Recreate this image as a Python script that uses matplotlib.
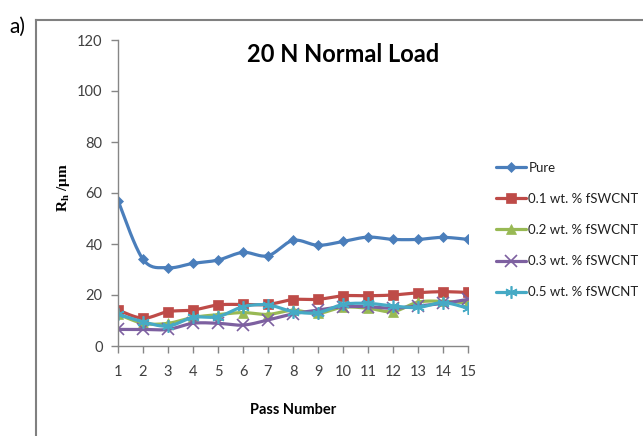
import numpy as np
import matplotlib
matplotlib.use("Agg")
import matplotlib.pyplot as plt
from matplotlib.lines import Line2D

# data
passes = list(range(1, 16))
pure = [57.0, 34.0, 30.7, 32.4, 33.7, 36.7, 35.4, 41.4, 39.5, 41.0, 42.7, 41.8, 41.8, 42.6, 41.8]
wt01 = [14.1, 10.9, 13.5, 14.1, 16.1, 16.3, 16.3, 18.2, 18.3, 19.7, 19.7, 20.0, 20.9, 21.3, 21.0]
wt02 = [12.5, 8.9, 8.9, 11.2, 12.3, 13.1, 12.4, 14.0, 12.8, 15.2, 14.8, 13.5, 17.2, 17.5, 16.9]
wt03 = [6.5, 6.5, 6.5, 8.9, 8.9, 8.2, 10.2, 12.6, 14.1, 15.4, 15.4, 14.8, 15.7, 16.7, 18.3]
wt05 = [12.5, 9.5, 7.8, 11.2, 11.5, 15.4, 16.1, 13.5, 13.1, 16.3, 16.7, 15.7, 15.1, 17.0, 14.8]

labels = ["Pure", "0.1 wt. % fSWCNT", "0.2 wt. % fSWCNT", "0.3 wt. % fSWCNT", "0.5 wt. % fSWCNT"]
colors = ["#4A7EBB", "#BE4B48", "#98B954", "#7D60A0", "#46AAC5"]
markers = ["D", "s", "^", "x", (6, 2, 0)]
msizes = [5.5, 7.5, 7.5, 8, 9]

plt.rcParams['font.family'] = ['Lato', 'DejaVu Sans']


def smooth(x, y, n=20):
    # excel-like smoothed line (bezier through the points)
    x = np.asarray(x, float)
    y = np.asarray(y, float)
    px = np.concatenate([[x[0]], x, [x[-1]]])
    py = np.concatenate([[y[0]], y, [y[-1]]])
    xs, ys = [], []
    t = np.linspace(0, 1, n + 1)
    for i in range(1, len(x)):
        p0 = np.array([px[i - 1], py[i - 1]])
        p1 = np.array([px[i], py[i]])
        p2 = np.array([px[i + 1], py[i + 1]])
        p3 = np.array([px[i + 2], py[i + 2]])
        c1 = p1 + (p2 - p0) / 6
        c2 = p2 - (p3 - p1) / 6
        tt = t if i == 1 else t[1:]
        b = ((1 - tt) ** 3)[:, None] * p1 + (3 * (1 - tt) ** 2 * tt)[:, None] * c1 \
            + (3 * (1 - tt) * tt ** 2)[:, None] * c2 + (tt ** 3)[:, None] * p2
        xs.extend(b[:, 0])
        ys.extend(b[:, 1])
    return np.array(xs), np.array(ys), list(range(0, len(xs), n))


fig = plt.figure(figsize=(6.43, 4.36), dpi=100)
ax = fig.add_axes([118 / 643, 90 / 436, 350 / 643, 306 / 436])

for vals, lab, c, m, ms in zip([pure, wt01, wt02, wt03, wt05], labels, colors, markers, msizes):
    sx, sy, idx = smooth(passes, vals)
    ax.plot(sx, sy, color=c, lw=2.3, marker=m, markevery=idx, markersize=ms,
            markeredgecolor=c, markerfacecolor=c, markeredgewidth=1.2 if m in ("x", (6, 2, 0)) else 0.5,
            label=lab, solid_capstyle='round')

ax.set_xlim(1, 15)
ax.set_ylim(0, 120)
ax.set_xticks(passes)
ax.set_yticks(range(0, 121, 20))
for s in ["top", "right"]:
    ax.spines[s].set_visible(False)
for s in ["left", "bottom"]:
    ax.spines[s].set_color("#868686")
    ax.spines[s].set_linewidth(1)
ax.tick_params(axis='both', colors='#868686', labelcolor='#404040', labelsize=10.5, length=5, width=1)
ax.tick_params(axis='x', pad=9)
ax.tick_params(axis='y', pad=6)
ax.patch.set_alpha(0)

fig.text(343 / 643, 1 - 55 / 436, "20 N Normal Load", ha='center', va='center',
         fontsize=17, fontweight='bold', color='black')
fig.text(293 / 643, 1 - 410 / 436, "Pass Number", ha='center', va='center',
         fontsize=10.5, fontweight='bold', color='black')
fig.text(64 / 643, 1 - 188 / 436, r"R$_\mathregular{h}$ /μm", ha='center', va='center', rotation=90,
         fontsize=11, fontweight='bold', family='Liberation Serif', color='black')
fig.text(9 / 643, 1 - 27 / 436, "a)", ha='left', va='center', fontsize=15, color='black')

# outer frame lines
fig.add_artist(Line2D([36 / 643, 36 / 643], [0, 1 - 20 / 436], color='#808080', lw=1.5))
fig.add_artist(Line2D([36 / 643, 1], [1 - 20 / 436, 1 - 20 / 436], color='#808080', lw=1.5))

leg = fig.legend(loc='center left', bbox_to_anchor=(496 / 643, 1 - 230 / 436), frameon=False,
                 fontsize=9.5, handlelength=2.25, handletextpad=0.2, labelspacing=1.45,
                 borderpad=0, borderaxespad=0, numpoints=1, labelcolor='#202020')

fig.savefig("out.png", dpi=100)
